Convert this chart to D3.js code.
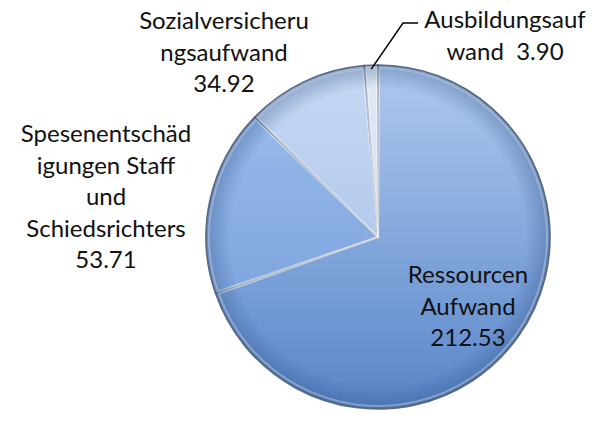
<!DOCTYPE html>
<html>
  <head>
    <script src="https://d3js.org/d3.v7.min.js"></script>
    <meta charset="utf-8">
    <style>
      body { margin: 0; background: #fff; }
      text { font-family: Lato, "Open Sans", sans-serif; font-size: 24px; fill: #111; text-anchor: middle; white-space: pre; }
    </style>
  </head>
  <body>
    <script>
      // data
      const categories = ["Ressourcen Aufwand", "Spesenentschädigungen Staff und Schiedsrichters",
                          "Sozialversicherungsaufwand", "Ausbildungsaufwand"];
      const values = [212.53, 53.71, 34.92, 3.90];
      // label lines as wrapped in the picture
      const labelLines = [
        ["Ressourcen", "Aufwand", "212.53"],
        ["Spesenentschäd", "igungen Staff", "und", "Schiedsrichters", "53.71"],
        ["Sozialversicheru", "ngsaufwand", "34.92"],
        ["Ausbildungsauf", "wand  3.90"]
      ];
      const colorsTop = ["#b0c9ef", "#a0c0ef", "#c6d8f3", "#e1e9f6"];
      const colorsBottom = ["#5886c9", "#6e98d6", "#a3bde6", "#c9d6ec"];

      const width = 594, height = 425;
      const cx = 378, cy = 237, r = 172;

      const svg = d3.select("body").append("svg")
        .attr("width", width)
        .attr("height", height);

      const defs = svg.append("defs");
      values.forEach((v, i) => {
        const g = defs.append("linearGradient")
          .attr("id", "grad" + i)
          .attr("gradientUnits", "userSpaceOnUse")
          .attr("x1", 0).attr("y1", -r).attr("x2", 0).attr("y2", r);
        g.append("stop").attr("offset", "0%").attr("stop-color", colorsTop[i]);
        g.append("stop").attr("offset", "100%").attr("stop-color", colorsBottom[i]);
      });
      // darker rim for the rounded look
      const rim = defs.append("radialGradient").attr("id", "rim")
        .attr("gradientUnits", "userSpaceOnUse")
        .attr("cx", 0).attr("cy", 0).attr("r", r);
      rim.append("stop").attr("offset", "86%").attr("stop-color", "#2a4d80").attr("stop-opacity", 0);
      rim.append("stop").attr("offset", "100%").attr("stop-color", "#2a4d80").attr("stop-opacity", 0.35);

      const pie = d3.pie().sort(null).value(d => d);
      const arcs = pie(values);
      const arc = d3.arc().innerRadius(0).outerRadius(r);
      const innerArc = d3.arc().innerRadius(0).outerRadius(r - 3).padAngle(0.014);

      const g = svg.append("g").attr("transform", `translate(${cx},${cy})`);

      g.selectAll("path.slice")
        .data(arcs)
        .enter()
        .append("path")
        .attr("class", "slice")
        .attr("d", arc)
        .attr("fill", (d, i) => `url(#grad${i})`)
        .attr("stroke", "#5f6d82")
        .attr("stroke-width", 1.6);

      g.selectAll("path.hl")
        .data(arcs)
        .enter()
        .append("path")
        .attr("class", "hl")
        .attr("d", innerArc)
        .attr("fill", "none")
        .attr("stroke", "#ffffff")
        .attr("stroke-opacity", 0.5)
        .attr("stroke-width", 2);

      g.append("circle").attr("r", r).attr("fill", "url(#rim)");

      // label anchor points (centre x, first line y)
      const labelPos = [[468, 273], [106, 132], [224, 19], [505, 18]];
      const lineH = 31.5;

      labelLines.forEach((lines, i) => {
        const t = svg.append("text")
          .attr("x", labelPos[i][0])
          .attr("y", labelPos[i][1])
          .attr("dominant-baseline", "central");
        lines.forEach((s, j) => {
          t.append("tspan")
            .attr("x", labelPos[i][0])
            .attr("y", labelPos[i][1] + j * lineH)
            .text(s);
        });
      });

      // leader line for the small slice
      const a = arcs[3];
      const mid = (a.startAngle + a.endAngle) / 2;
      const p0 = [cx + Math.sin(mid) * (r - 4), cy - Math.cos(mid) * (r - 4)];
      svg.append("polyline")
        .attr("points", [p0, [403, 23], [418, 23]].map(p => p.join(",")).join(" "))
        .attr("fill", "none")
        .attr("stroke", "#000")
        .attr("stroke-width", 1.5);
    </script>
  </body>
</html>
